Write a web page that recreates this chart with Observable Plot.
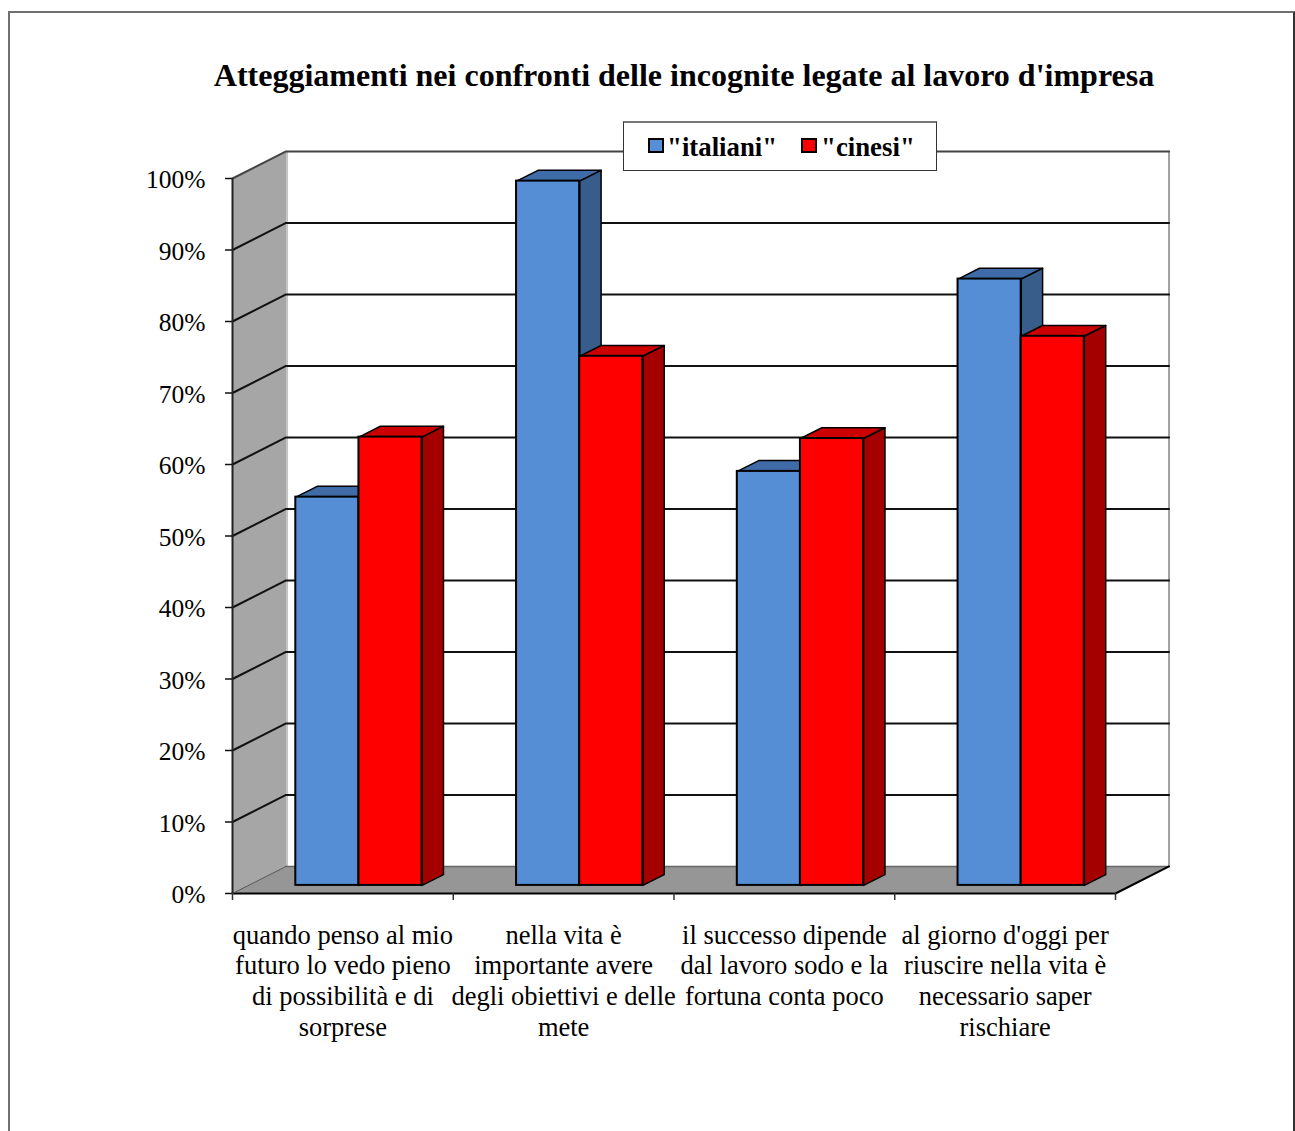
<!DOCTYPE html>
<html>
<head>
<meta charset="utf-8">
<title>Atteggiamenti nei confronti delle incognite legate al lavoro d'impresa</title>
<script src="https://cdn.jsdelivr.net/npm/d3@7"></script>
<script src="https://cdn.jsdelivr.net/npm/@observablehq/plot@0.6"></script>
<style>
  html, body { margin: 0; padding: 0; background: #fff; overflow: hidden; }
  #page { position: relative; width: 1295px; height: 1131px; font-family: "Liberation Serif", serif; color: #000; }
  #page svg { position: absolute; left: 0; top: 0; background: transparent; }
  #sheet { position: absolute; left: 8px; top: 11px; width: 1287px; height: 1130px; border: 2px solid #707070; border-right-color: #333; box-sizing: border-box; }
  #title { position: absolute; left: 0; width: 1368px; top: 56px; text-align: center; font-weight: bold; font-size: 32px; line-height: 38px; white-space: nowrap; }
  #legend { position: absolute; left: 623px; top: 121px; width: 314px; height: 50px; box-sizing: border-box; background: #fff; border: 1px solid #333; border-top: 2px solid #777; font-weight: bold; font-size: 26.8px; }
  #legend span { position: absolute; top: 9px; line-height: 30px; white-space: nowrap; }
  #legend i { position: absolute; top: 15px; width: 16px; height: 15px; box-sizing: border-box; border: 2px solid #000; }
</style>
</head>
<body>
<div id="page">
  <div id="sheet"></div>
  <div id="title">Atteggiamenti nei confronti delle incognite legate al lavoro d'impresa</div>
  <div id="chart"></div>
  <div id="legend"></div>
</div>
<script>
// Survey answers, percent agreeing, one value per statement
const categories = [
  "quando penso al mio\nfuturo lo vedo pieno\ndi possibilità e di\nsorprese",
  "nella vita è\nimportante avere\ndegli obiettivi e delle\nmete",
  "il successo dipende\ndal lavoro sodo e la\nfortuna conta poco",
  "al giorno d'oggi per\nriuscire nella vita è\nnecessario saper\nrischiare"
];
const italiani = [54.3, 98.5, 57.9, 84.8];
const cinesi = [62.7, 74.0, 62.5, 76.8];
const yTicks = [0, 10, 20, 30, 40, 50, 60, 70, 80, 90, 100];
const xTicks = [0, 1, 2, 3, 4];

const seriesList = [
  {name: "\"italiani\"", values: italiani, front: "#558ed5", top: "#3f6ba6", side: "#385d8a", slot: 0},
  {name: "\"cinesi\"", values: cinesi, front: "#ff0000", top: "#cc0000", side: "#a40000", slot: 1}
];

// Oblique projection: a full step back in depth moves right (in category units) and up (in percent)
const depthX = 0.2425;
const depthY = 3.78;
const project = (x, y, d) => ({px: x + d * depthX, py: y + d * depthY});

// Bars sit between these depth fractions of the floor
const barNear = 0.3;
const barFar = 0.7;
// Width of the two side-by-side bars of one category, in category units
const pairWidth = 0.572;

const face = (id, fill, corners) => corners.map(([x, y, d]) => ({id, fill, ...project(x, y, d)}));

const wall = face("wall", "#a6a6a6", [[0, 0, 0], [0, 100, 0], [0, 100, 1], [0, 0, 1]]);
const floor = face("floor", "#969696", [[0, 0, 0], [0, 0, 1], [4, 0, 1], [4, 0, 0]]);

// Gridlines run up the side wall, then across the back wall
const grid = yTicks.slice(1).flatMap((v) =>
  [[0, v, 0], [0, v, 1], [4, v, 1]].map(([x, y, d]) => ({v, ...project(x, y, d)}))
);

const fronts = [];
const faces = [];
categories.forEach((c, i) => {
  seriesList.forEach((s) => {
    const x1 = i + 0.5 - pairWidth / 2 + s.slot * (pairWidth / 2);
    const x2 = x1 + pairWidth / 2;
    const v = s.values[i];
    const a = project(x1, 0, barNear);
    const b = project(x2, v, barNear);
    fronts.push({series: s.name, x1: a.px, x2: b.px, y1: a.py, y2: b.py, fill: s.front});
    faces.push(...face(`top-${s.slot}-${i}`, s.top, [[x1, v, barNear], [x1, v, barFar], [x2, v, barFar], [x2, v, barNear]]));
    faces.push(...face(`side-${s.slot}-${i}`, s.side, [[x2, 0, barNear], [x2, 0, barFar], [x2, v, barFar], [x2, v, barNear]]));
  });
});

const polygon = (rows, stroke, strokeWidth) => Plot.line(rows, {
  x: "px", y: "py", z: "id", fill: "fill", stroke, strokeWidth, curve: "linear-closed"
});

const chart = Plot.plot({
  width: 1295,
  height: 1131,
  marginLeft: 232,
  marginRight: 180,
  marginTop: 178,
  marginBottom: 238,
  x: {domain: [0, 4]},
  y: {domain: [0, 100]},
  color: {type: "identity"},
  style: {fontFamily: "Liberation Serif", background: "transparent", color: "#000"},
  marks: [
    polygon(wall, "none", 0),
    polygon(floor, "none", 0),
    // Pale edge where the side wall meets the back wall, and the far corner
    Plot.line([project(0, 0, 1), project(0, 100, 1)], {x: "px", y: "py", stroke: "#c4c4c4", strokeWidth: 2, dx: 1}),
    Plot.line([project(4, 0, 1), project(4, 100, 1)], {x: "px", y: "py", stroke: "#a0a0a0", strokeWidth: 2}),
    // Far edge of the floor
    Plot.line([project(0, 0, 1), project(4, 0, 1)], {x: "px", y: "py", stroke: "#666", strokeWidth: 1.5}),
    // Front and right edges of the floor
    Plot.line([project(0, 0, 0), project(4, 0, 0), project(4, 0, 1)], {x: "px", y: "py", stroke: "#000", strokeWidth: 2}),
    Plot.line([project(0, 0, 0), project(0, 0, 1)], {x: "px", y: "py", stroke: "#555", strokeWidth: 1}),
    Plot.line(grid, {x: "px", y: "py", z: "v", stroke: (d) => d.v === 100 ? "#444" : "#111", strokeWidth: 2}),
    polygon(faces, "#000", 1.5),
    Plot.rect(fronts, {x1: "x1", x2: "x2", y1: "y1", y2: "y2", fill: "fill", stroke: "#000", strokeWidth: 2, inset: 0}),
    // Tick marks and percent labels are separate so the labels can sit a little below their ticks
    Plot.axisY({
      ticks: yTicks,
      tickFormat: () => "",
      tickSize: 7,
      label: null,
      stroke: "#111",
      strokeWidth: 1.5
    }),
    Plot.axisY({
      ticks: yTicks,
      tickFormat: (d) => `${d}%`,
      tickSize: 0,
      tickPadding: 27,
      fontSize: 25.5,
      label: null,
      dy: 1.5
    }),
    Plot.ruleX([0], {y1: 0, y2: 100, stroke: "#222", strokeWidth: 2}),
    Plot.axisX({
      ticks: xTicks,
      tickFormat: () => "",
      tickSize: 7,
      label: null,
      stroke: "#333",
      strokeWidth: 1.5
    }),
    Plot.text(categories, {
      x: (d, i) => i + 0.5,
      y: () => 0,
      text: (d) => d,
      lineAnchor: "top",
      dy: 28.4,
      lineHeight: 1.158,
      fontSize: 26.5,
      textAnchor: "middle",
      fill: "#000"
    })
  ]
});
document.getElementById("chart").append(chart);

// Series key laid over the top of the back wall
const legend = document.getElementById("legend");
const keyPositions = [[24, 43], [177, 197]];
seriesList.forEach((s, i) => {
  const swatch = document.createElement("i");
  swatch.style.left = keyPositions[i][0] + "px";
  swatch.style.background = s.front;
  const label = document.createElement("span");
  label.style.left = keyPositions[i][1] + "px";
  label.textContent = s.name;
  legend.append(swatch, label);
});
</script>
</body>
</html>
